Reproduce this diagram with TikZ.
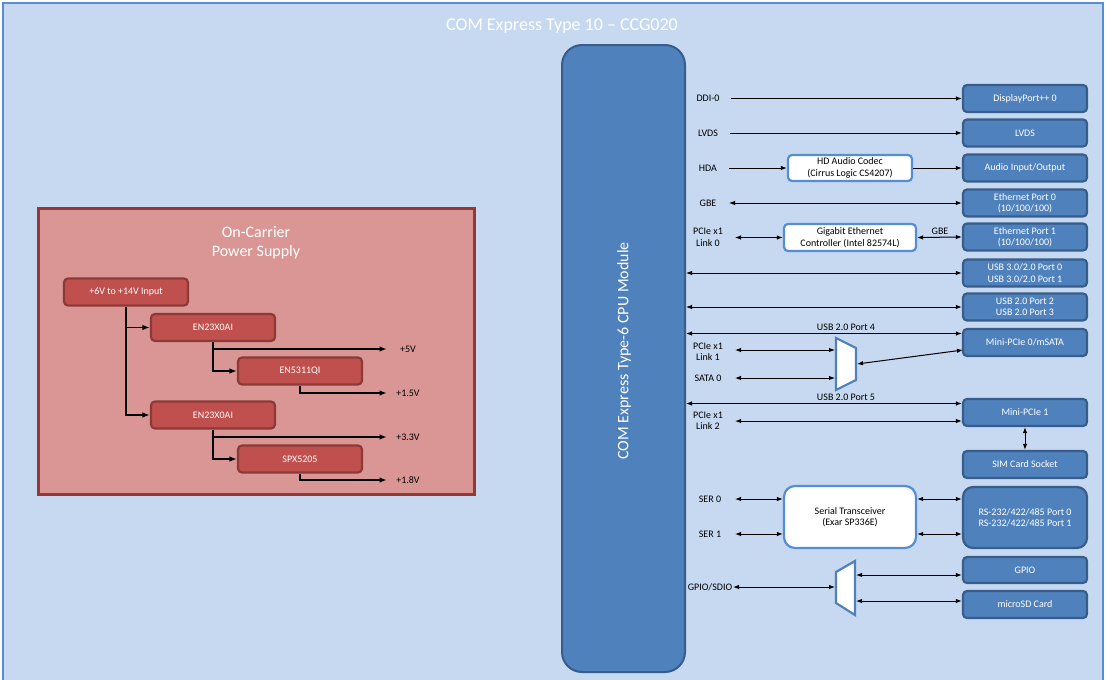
\documentclass[tikz,border=0pt]{standalone}
\usepackage{fontspec}
\setmainfont{Carlito}
\usetikzlibrary{arrows.meta}
\definecolor{bgblue}{HTML}{C6D9F1}
\definecolor{frameblue}{HTML}{558ED5}
\definecolor{boxblue}{HTML}{4F81BD}
\definecolor{boxedge}{HTML}{385D8A}
\definecolor{psfill}{HTML}{D99694}
\definecolor{psedge}{HTML}{953735}
\definecolor{redbox}{HTML}{C0504D}
\definecolor{rededge}{HTML}{8C3A38}
\begin{document}
\begin{tikzpicture}[x=1pt,y=-1pt,
  smallfont/.style={font=\fontsize{10}{11.5}\selectfont},
  bluebox/.style={draw=boxedge, fill=boxblue, line width=2.2pt, rounded corners=4pt,
    minimum width=124pt, minimum height=27pt, text=white, align=center, inner sep=0pt, smallfont},
  whitebox/.style={draw=frameblue, fill=white, line width=2.2pt, rounded corners=4pt,
    minimum height=27pt, text=black, align=center, inner sep=0pt, smallfont},
  redbx/.style={draw=rededge, fill=redbox, line width=2.2pt, rounded corners=4pt,
    minimum width=124pt, minimum height=27pt, text=white, align=center, inner sep=0pt, smallfont},
  lbl/.style={align=center, inner sep=0pt, smallfont, text=black},
  sarr/.style={line width=1pt, -{Latex[length=6pt,width=4.5pt]}},
  darr/.style={line width=1pt, {Latex[length=6pt,width=4.5pt]}-{Latex[length=6pt,width=4.5pt]}},
  parr/.style={line width=1.6pt, -{Latex[length=7.5pt,width=5.5pt]}},
  muxshape/.style={draw=boxblue, fill=white, line width=2.2pt, line join=miter}
]
\clip (0,0) rectangle (1106,680);
\fill[white] (0,0) rectangle (1106,680);
% outer frame
\draw[frameblue, fill=bgblue, line width=2pt] (3,3) rectangle (1103,700);
\node[text=white, font=\fontsize{18}{21}\selectfont] (title) at (562,26) {COM Express Type 10 – CCG020};

% CPU module
\node[draw=boxedge, fill=boxblue, line width=2pt, rounded corners=20pt,
  minimum width=123pt, minimum height=627pt, inner sep=0pt] (cpu) at (623.5,358.5) {};
\node[rotate=90, text=white, font=\fontsize{16}{19}\selectfont] (cpulbl) at (624,351) {COM Express Type-6 CPU Module};

% power supply
\node[draw=psedge, fill=psfill, line width=3pt, minimum width=436pt, minimum height=286pt, inner sep=0pt] (ps) at (256,351) {};
\node[text=white, align=center, font=\fontsize{16}{19.5}\selectfont] (pstitle) at (256,243) {On-Carrier\\Power Supply};
\node[redbx] (pin) at (126,292) {+6V to +14V Input};
\node[redbx] (en1) at (213,327.5) {EN23X0AI};
\node[redbx] (en53) at (300,371) {EN5311QI};
\node[redbx] (en2) at (213,415) {EN23X0AI};
\node[redbx] (spx) at (300,459) {SPX5205};
\coordinate (v5) at (387,349);
\coordinate (v15) at (387,393);
\coordinate (v33) at (387,437);
\coordinate (v18) at (387,480);
\draw[parr] (pin.south) |- (en1.west);
\draw[parr] (pin.south) |- (en2.west);
\draw[parr] (en1.south) |- (v5);
\draw[parr] (en1.south) |- (en53.west);
\draw[parr] (en53.south) |- (v15);
\draw[parr] (en2.south) |- (v33);
\draw[parr] (en2.south) |- (spx.west);
\draw[parr] (spx.south) |- (v18);
\node[lbl] (l5) at (408,349) {+5V};
\node[lbl] (l15) at (408,393) {+1.5V};
\node[lbl] (l33) at (408,437) {+3.3V};
\node[lbl] (l18) at (408,480) {+1.8V};

% right blue boxes
\node[bluebox] (dp) at (1025,98.5) {DisplayPort++ 0};
\node[bluebox] (lvdsb) at (1025,133) {LVDS};
\node[bluebox] (audio) at (1025,168) {Audio Input/Output};
\node[bluebox] (eth0) at (1025,203) {Ethernet Port 0\\(10/100/100)};
\node[bluebox] (eth1) at (1025,237) {Ethernet Port 1\\(10/100/100)};
\node[bluebox] (usb3) at (1025,273) {USB 3.0/2.0 Port 0\\USB 3.0/2.0 Port 1};
\node[bluebox] (usb2) at (1025,307) {USB 2.0 Port 2\\USB 2.0 Port 3};
\node[bluebox] (mp0) at (1025,342.5) {Mini-PCIe 0/mSATA};
\node[bluebox] (mp1) at (1025,412.5) {Mini-PCIe 1};
\node[bluebox] (sim) at (1025,464.5) {SIM Card Socket};
\node[bluebox, minimum height=61pt, rounded corners=10pt] (rs) at (1025,517.5) {RS-232/422/485 Port 0\\RS-232/422/485 Port 1};
\node[bluebox, minimum height=26pt] (gpio) at (1025,570) {GPIO};
\node[bluebox] (sd) at (1025,604.5) {microSD Card};

% white boxes
\node[whitebox, minimum width=124pt, minimum height=26pt] (codec) at (850,168) {HD Audio Codec\\(Cirrus Logic CS4207)};
\node[whitebox, minimum width=132pt] (gbec) at (850,237.5) {Gigabit Ethernet\\Controller (Intel 82574L)};
\node[whitebox, minimum width=132pt, minimum height=62pt, rounded corners=11pt] (serial) at (850,517) {Serial Transceiver\\(Exar SP336E)};

% muxes
\draw[muxshape] (836,338) coordinate (m1a) -- (856,348) -- (856,380) -- (836,390) -- cycle;
\draw[muxshape] (836,572) coordinate (m2a) -- (855,561) -- (855,615) -- (836,603) -- cycle;

% left labels
\node[lbl] (ddi) at (708,98.5) {DDI-0};
\node[lbl] (lvdsl) at (708,133) {LVDS};
\node[lbl] (hda) at (708,168) {HDA};
\node[lbl] (gbe) at (708,203) {GBE};
\node[lbl] (pcie0) at (708,237.5) {PCIe x1\\Link 0};
\node[lbl] (pcie1) at (708,352) {PCIe x1\\Link 1};
\node[lbl] (sata) at (708,378) {SATA 0};
\node[lbl] (pcie2) at (708,421) {PCIe x1\\Link 2};
\node[lbl] (ser0) at (710,499) {SER 0};
\node[lbl] (ser1) at (710,534) {SER 1};
\node[lbl] (gpiol) at (710,587) {GPIO/SDIO};

% start coordinates
\coordinate (ddiS) at (731,98.5);
\coordinate (lvdsS) at (730,133);
\coordinate (hdaS) at (729,168);
\coordinate (gbeS) at (729,203);
\coordinate (p0S) at (735,237.5);
\coordinate (u4) at (700,333.5);
\coordinate (p1S) at (735,350);
\coordinate (m1in1) at (835,350);
\coordinate (sataS) at (735,378);
\coordinate (m1in2) at (835,378);
\coordinate (m1out) at (857,364);
\coordinate (mp0in) at (963,350);
\coordinate (u5) at (700,403.5);
\coordinate (p2S) at (735,421);
\coordinate (s0S) at (735,499);
\coordinate (s1S) at (735,534);
\coordinate (gS) at (733,587);
\coordinate (m2in) at (835,587);
\coordinate (m2o1) at (856,575);
\coordinate (m2o2) at (856,601);

% connectors
\draw[sarr] (ddiS) -- (dp.west);
\draw[sarr] (lvdsS) -- (lvdsb.west);
\draw[sarr] (hdaS) -- (codec.west);
\draw[sarr] (codec.east) -- (audio.west);
\draw[darr] (gbeS) -- (eth0.west);
\draw[darr] (p0S) -- (gbec.west);
\draw[darr] (gbec.east) -- (eth1.west);
\node[lbl] (gbel) at (940,231) {GBE};
\draw[darr] (cpu.east |- usb3) -- (usb3.west);
\draw[darr] (cpu.east |- usb2) -- (usb2.west);
\draw[darr] (cpu.east |- u4) -- (u4 -| mp0.west);
\node[lbl] (u4l) at (846,327.5) {USB 2.0 Port 4};
\draw[darr] (p1S) -- (m1in1);
\draw[darr] (sataS) -- (m1in2);
\draw[darr] (m1out) -- (mp0in);
\draw[darr] (cpu.east |- u5) -- (u5 -| mp1.west);
\node[lbl] (u5l) at (846,397.5) {USB 2.0 Port 5};
\draw[darr] (p2S) -- (p2S -| mp1.west);
\draw[darr] (mp1.south) -- (sim.north);
\draw[darr] (s0S) -- (s0S -| serial.west);
\draw[darr] (s1S) -- (s1S -| serial.west);
\draw[darr] (serial.east |- s0S) -- (rs.west |- s0S);
\draw[darr] (serial.east |- s1S) -- (rs.west |- s1S);
\draw[darr] (gS) -- (m2in);
\draw[darr] (m2o1) -- (m2o1 -| gpio.west);
\draw[darr] (m2o2) -- (m2o2 -| sd.west);
\end{tikzpicture}
\end{document}
